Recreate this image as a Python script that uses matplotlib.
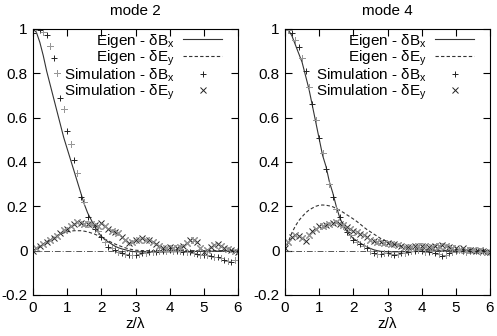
import numpy as np
import matplotlib
matplotlib.use("Agg")
import matplotlib.pyplot as plt
from matplotlib.ticker import FormatStrFormatter

plt.rcParams["font.family"] = ["Liberation Sans", "DejaVu Sans"]
plt.rcParams["font.size"] = 11
plt.rcParams["axes.unicode_minus"] = False
plt.rcParams["mathtext.fontset"] = "custom"
plt.rcParams["mathtext.rm"] = "Liberation Sans"
plt.rcParams["mathtext.it"] = "Liberation Sans"

# ---- data ----
z_sim = np.round(np.arange(0, 6.01, 0.1), 2)

m2_sim_bx = [0.98, 1.0, 0.995, 0.985, 0.975, 0.925, 0.87, 0.80, 0.69, 0.64,
             0.54, 0.48, 0.41, 0.35, 0.24, 0.22, 0.15, 0.12, 0.10, 0.09,
             0.06, 0.04, 0.018, 0.01, 0.005, -0.005, -0.01, -0.015, -0.02, -0.02,
             -0.018, -0.015, -0.012, -0.01, -0.008, -0.005, -0.005, -0.003, 0.0, 0.0,
             0.002, 0.0, -0.002, -0.003, -0.005, -0.005, -0.008, -0.01, -0.015, -0.02,
             -0.02, -0.02, -0.025, -0.03, -0.03, -0.035, -0.04, -0.045, -0.05, -0.04,
             -0.005]
m2_sim_ey = [0.0, 0.01, 0.02, 0.03, 0.04, 0.05, 0.058, 0.065, 0.08, 0.093,
             0.10, 0.11, 0.12, 0.13, 0.125, 0.12, 0.12, 0.12, 0.115, 0.11,
             0.124, 0.11, 0.10, 0.09, 0.086, 0.08, 0.06, 0.05, 0.033, 0.04,
             0.05, 0.05, 0.055, 0.05, 0.05, 0.04, 0.03, 0.02, 0.01, 0.012,
             0.015, 0.012, 0.01, 0.015, 0.02, 0.035, 0.048, 0.05, 0.04, 0.01,
             -0.005, 0.005, 0.015, 0.025, 0.03, 0.02, 0.012, 0.008, 0.005, 0.0,
             -0.005]

m4_sim_bx = [1.0, 0.995, 0.98, 0.95, 0.92, 0.87, 0.81, 0.74, 0.66, 0.59,
             0.51, 0.44, 0.37, 0.30, 0.24, 0.19, 0.15, 0.11, 0.085, 0.07,
             0.05, 0.04, 0.03, 0.02, 0.01, 0.0, -0.01, -0.015, -0.015, -0.01,
             -0.01, -0.015, -0.02, -0.015, -0.01, -0.01, -0.005, 0.0, 0.0, 0.005,
             0.0, -0.005, -0.005, 0.0, -0.01, -0.015, -0.025, -0.02, -0.01, -0.005,
             0.0, 0.005, 0.0, -0.005, 0.0, 0.005, 0.0, -0.005, 0.0, -0.005,
             -0.01]
m4_sim_ey = [0.01, 0.04, 0.06, 0.07, 0.065, 0.055, 0.045, 0.07, 0.09, 0.10,
             0.11, 0.11, 0.115, 0.12, 0.125, 0.13, 0.12, 0.115, 0.105, 0.10,
             0.09, 0.085, 0.075, 0.07, 0.06, 0.05, 0.045, 0.04, 0.038, 0.035,
             0.035, 0.03, 0.03, 0.025, 0.02, 0.015, 0.015, 0.015, 0.02, 0.02,
             0.02, 0.02, 0.015, 0.015, 0.02, 0.02, 0.025, 0.02, 0.015, 0.01,
             0.01, 0.005, 0.01, 0.005, 0.005, 0.005, 0.0, 0.005, 0.0, -0.005,
             -0.005]

z_eig = [0.0, 0.1, 0.2, 0.3, 0.4, 0.5, 0.6, 0.7, 0.8, 0.9,
         1.0, 1.1, 1.2, 1.3, 1.4, 1.5, 1.6, 1.7, 1.8, 1.9,
         2.0, 2.1, 2.2, 2.3, 2.4, 2.5, 2.6, 2.7, 2.8, 2.9,
         3.0, 3.2, 3.4, 3.6, 3.8, 4.0, 4.5, 5.0, 5.5, 6.0]
m2_eig_bx = [1.0, 0.985, 0.94, 0.88, 0.81, 0.75, 0.69, 0.63, 0.57, 0.51,
             0.46, 0.41, 0.36, 0.31, 0.26, 0.21, 0.17, 0.14, 0.11, 0.085,
             0.065, 0.05, 0.04, 0.03, 0.02, 0.013, 0.008, 0.004, 0.0, -0.003,
             -0.005, -0.006, -0.006, -0.006, -0.006, -0.005, -0.004, -0.003, -0.002, -0.001]
m2_eig_ey = [0.0, 0.01, 0.02, 0.03, 0.04, 0.05, 0.06, 0.068, 0.075, 0.08,
             0.085, 0.088, 0.09, 0.09, 0.09, 0.088, 0.085, 0.08, 0.075, 0.068,
             0.06, 0.052, 0.045, 0.037, 0.03, 0.024, 0.018, 0.013, 0.008, 0.005,
             0.002, 0.0, 0.0, 0.0, 0.0, 0.0, 0.0, 0.0, 0.0, 0.0]
m4_eig_bx = [1.0, 0.995, 0.97, 0.93, 0.89, 0.85, 0.79, 0.73, 0.655, 0.58,
             0.505, 0.43, 0.38, 0.31, 0.26, 0.20, 0.15, 0.115, 0.09, 0.07,
             0.055, 0.045, 0.035, 0.025, 0.017, 0.01, 0.004, 0.0, -0.003, -0.004,
             -0.005, -0.005, -0.005, -0.004, -0.004, -0.003, -0.002, -0.001, 0.0, 0.0]
m4_eig_ey = [0.0, 0.04, 0.08, 0.11, 0.135, 0.153, 0.17, 0.183, 0.192, 0.20,
             0.205, 0.206, 0.205, 0.202, 0.198, 0.19, 0.182, 0.173, 0.163, 0.153,
             0.143, 0.132, 0.12, 0.107, 0.095, 0.085, 0.075, 0.065, 0.055, 0.047,
             0.04, 0.028, 0.02, 0.013, 0.008, 0.005, 0.002, 0.0, 0.0, 0.0]

panels = [
    ("mode 2", m2_eig_bx, m2_eig_ey, m2_sim_bx, m2_sim_ey),
    ("mode 4", m4_eig_bx, m4_eig_ey, m4_sim_bx, m4_sim_ey),
]

fig = plt.figure(figsize=(4.97, 3.36), dpi=100)
boxes = [[33 / 497, 41 / 336, 205 / 497, 266 / 336],
         [285 / 497, 41 / 336, 205 / 497, 266 / 336]]

for box, (title, eb, ee, sb, se) in zip(boxes, panels):
    ax = fig.add_axes(box)
    ax.axhline(0, color="#555555", lw=0.7, ls=(0, (6, 2, 1, 2)))
    ax.plot(z_eig, eb, color="#333333", lw=0.8, label=r"Eigen - δB$_x$")
    ax.plot(z_eig, ee, color="#333333", lw=0.8, ls=(0, (3, 2)),
            label=r"Eigen - δE$_y$")
    sb = np.asarray(sb)
    se = np.asarray(se)
    ax.plot(z_sim, sb, ls="none", marker="+", ms=4.5, mew=0.7, color="#222222",
            label=r"Simulation - δB$_x$")
    ax.plot(z_sim, se, ls="none", marker="x", ms=4.5, mew=0.7, color="#222222",
            label=r"Simulation - δE$_y$")
    # lighter every other sample, as in the original rendering
    ax.plot(z_sim[1::2], sb[1::2], ls="none", marker="+", ms=4.5, mew=0.7,
            color="#9a9a9a")
    ax.plot(z_sim[1::2], se[1::2], ls="none", marker="x", ms=4.5, mew=0.7,
            color="#9a9a9a")

    ax.set_xlim(0, 6)
    ax.set_ylim(-0.2, 1.0)
    ax.set_xticks(range(7))
    ax.set_yticks([-0.2, 0, 0.2, 0.4, 0.6, 0.8, 1.0])
    ax.yaxis.set_major_formatter(FormatStrFormatter("%g"))
    ax.tick_params(direction="in", top=True, right=True, length=5, width=0.8,
                   labelsize=11, pad=4)
    for s in ax.spines.values():
        s.set_linewidth(0.8)
    ax.set_title(title, fontsize=11, pad=10)
    ax.set_xlabel(r"z/λ", fontsize=11, labelpad=2)
    ax.legend(loc="upper right", bbox_to_anchor=(0.922, 0.99),
              frameon=False, markerfirst=False, numpoints=1,
              handlelength=2.55, handletextpad=0.55, labelspacing=-0.08,
              borderaxespad=0, borderpad=0, fontsize=11)

fig.savefig("out.png", dpi=100)
